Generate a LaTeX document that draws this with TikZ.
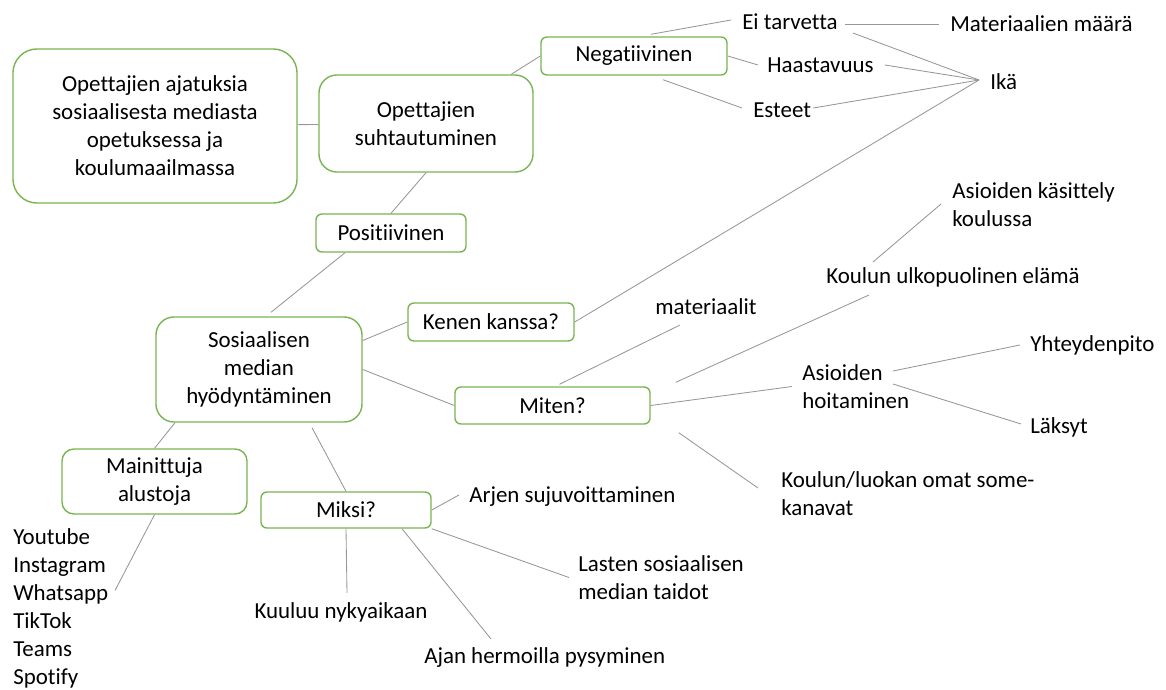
\documentclass[tikz,border=0pt]{standalone}
\usepackage{fontspec}
\setmainfont{Carlito}[Ligatures={NoCommon}]
\usepackage{tikz}
\usetikzlibrary{positioning,calc}
\definecolor{boxgreen}{RGB}{120,180,80}
\definecolor{linegray}{RGB}{150,150,150}
\tikzset{
    bigbox/.style={draw=boxgreen,line width=1pt,rounded corners=0.6cm,align=center,inner sep=0pt},
    midbox/.style={draw=boxgreen,line width=1pt,rounded corners=0.45cm,align=center,inner sep=0pt},
    smallbox/.style={draw=boxgreen,line width=1pt,rounded corners=0.15cm,align=center,inner sep=0pt},
    txt/.style={inner sep=0pt,anchor=west,align=left},
    line/.style={-,line width=0.6pt,draw=linegray},
}
\begin{document}
\begin{tikzpicture}[x=0.025cm,y=-0.025cm,font=\fontsize{16.3}{19.9}\selectfont]
                \useasboundingbox (0,0) rectangle (1166,690);
                \node[bigbox,minimum width=7.1cm,minimum height=3.85cm] (main) at (155,126) {Opettajien ajatuksia\\sosiaalisesta mediasta\\opetuksessa ja\\koulumaailmassa};
                \node[midbox,minimum width=5.35cm,minimum height=2.425cm] (suht) at (426,123.5) {Opettajien\\suhtautuminen};
                \node[smallbox,minimum width=4.65cm,minimum height=0.95cm] (neg) at (634,56) {Negatiivinen};
                \node[smallbox,minimum width=3.75cm,minimum height=0.95cm] (pos) at (391,233) {Positiivinen};
                \node[midbox,minimum width=5.15cm,minimum height=2.625cm] (sos) at (259,369.5) {Sosiaalisen\\median\\hyödyntäminen};
                \node[smallbox,minimum width=4.15cm,minimum height=0.95cm] (kenen) at (491,322) {Kenen kanssa?};
                \node[smallbox,minimum width=4.875cm,minimum height=0.925cm] (miten) at (552.5,405.5) {Miten?};
                \node[smallbox,rounded corners=0.3cm,minimum width=4.625cm,minimum height=1.625cm] (alustat) at (154.5,481.5) {Mainittuja\\alustoja};
                \node[smallbox,minimum width=4.25cm,minimum height=0.9cm] (miksi) at (346,510) {Miksi?};
                \node[txt] (ei) at (742,22) {Ei tarvetta};
                \node[txt] (maara) at (950,24) {Materiaalien määrä};
                \node[txt] (haas) at (767,65) {Haastavuus};
                \node[txt] (este) at (753,110) {Esteet};
                \node[txt] (ika) at (990,82) {Ikä};
                \node[txt] (kasittely) at (952,205) {Asioiden käsittely\\koulussa};
                \node[txt] (ulko) at (826,277) {Koulun ulkopuolinen elämä};
                \node[txt] (mat) at (655,307) {materiaalit};
                \node[txt] (hoito) at (802,386.5) {Asioiden\\hoitaminen};
                \node[txt] (yht) at (1030,345) {Yhteydenpito};
                \node[txt] (laksyt) at (1030,427) {Läksyt};
                \node[txt] (kanavat) at (781,494) {Koulun/luokan omat some-\\kanavat};
                \node[txt] (arki) at (469,497) {Arjen sujuvoittaminen};
                \node[txt] (taidot) at (578,577.5) {Lasten sosiaalisen\\median taidot};
                \node[txt,anchor=center] (nyky) at (341,612) {Kuuluu nykyaikaan};
                \node[txt] (hermo) at (424,658) {Ajan hermoilla pysyminen};
                \node[txt] (alustalista) at (13,608.5) {Youtube\\Instagram\\Whatsapp\\TikTok\\Teams\\Spotify};
                \draw[line] (main) -- (suht);
                \draw[line] (suht.30) -- (neg.west);
                \draw[line] (suht.south) -- (pos.north);
                \draw[line] ($(pos.south)+(-46,0)$) -- ($(sos.north)+(12,-4)$);
                \draw[line] ($(sos.east)+(0,-29)$) -- (kenen.west);
                \draw[line] (kenen.east) -- ($(ika.west)+(-11,-2)$);
                \draw[line] (sos.east) -- (miten.west);
                \draw[line] ($(miten.north)+(7,-2)$) -- ($(mat.west)+(25,18)$);
                \draw[line] ($(miten.north east)+(25,-4)$) -- ($(ulko.west)+(43,18)$);
                \draw[line] (miten.east) -- ($(hoito.west)+(-10,0)$);
                \draw[line] ($(hoito.west)+(91,-15.5)$) -- ($(yht.west)+(-10,0)$);
                \draw[line] ($(hoito.west)+(91,-2.5)$) -- ($(laksyt.west)+(-9,-3)$);
                \draw[line] ($(miten.south east)+(28,8)$) -- ($(kanavat.west)+(-23,-6)$);
                \draw[line] ($(kasittely.west)+(-11,-1)$) -- ($(ulko.west)+(47,-15)$);
                \draw[line] ($(neg.north)+(17,-2)$) -- ($(ei.west)+(-11,-2)$);
                \draw[line] ($(ei.east)+(7,2)$) -- ($(maara.west)+(-11,0)$);
                \draw[line] (neg.east) -- ($(haas.west)+(-9,0)$);
                \draw[line] ($(neg.south)+(29,4)$) -- ($(este.west)+(-11,-2)$);
                \draw[line] ($(ei.east)+(15,11)$) -- ($(ika.west)+(-11,-2)$);
                \draw[line] ($(haas.east)+(11,0)$) -- ($(ika.west)+(-11,-2)$);
                \draw[line] ($(este.east)+(2,-2)$) -- ($(ika.west)+(-11,-2)$);
                \draw[line] ($(sos.south)+(-84,0)$) -- (alustat.north);
                \draw[line] ($(sos.south)+(53,5)$) -- (miksi.north);
                \draw[line] (alustat.south) -- ($(alustalista.west)+(102,-18)$);
                \draw[line] (miksi.east) -- ($(arki.west)+(-10,-2)$);
                \draw[line] (miksi.south east) -- ($(taidot.west)+(-9,0)$);
                \draw[line] (miksi.south) -- ($(nyky.north)+(6,-9)$);
                \draw[line] ($(miksi.south)+(56,0)$) -- ($(hermo.west)+(67,-19)$);
            \end{tikzpicture}
\end{document}
